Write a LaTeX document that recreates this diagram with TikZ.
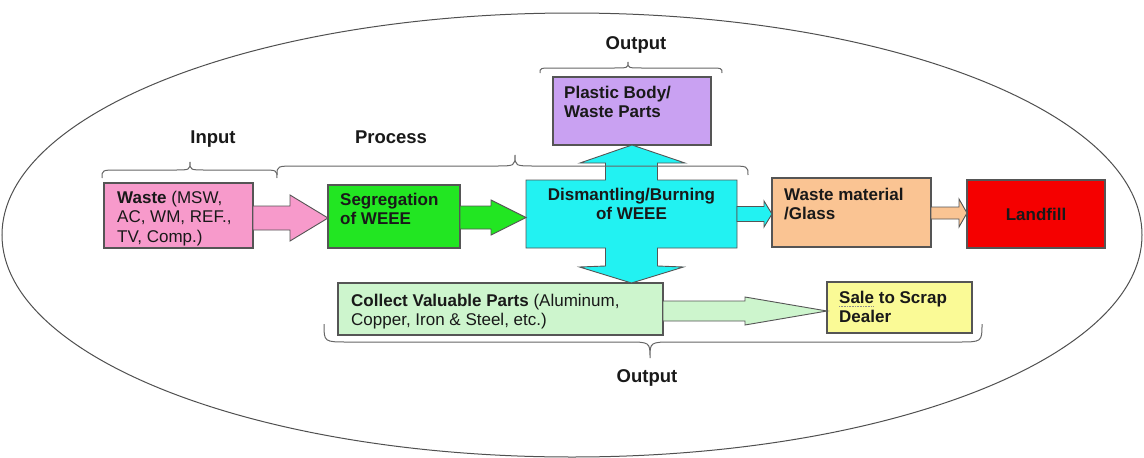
\documentclass[tikz,border=0pt]{standalone}
\usepackage{fontspec}
\setmainfont{Liberation Sans}
\usetikzlibrary{calc}

\definecolor{boxline}{HTML}{555555}
\definecolor{rimline}{HTML}{505050}
\definecolor{pinkfill}{HTML}{F79ACB}
\definecolor{greenfill}{HTML}{22E622}
\definecolor{cyanfill}{HTML}{22F2F2}
\definecolor{violetfill}{HTML}{C9A1F2}
\definecolor{tanfill}{HTML}{FAC493}
\definecolor{redfill}{HTML}{F50000}
\definecolor{mintfill}{HTML}{CDF5CD}
\definecolor{lemonfill}{HTML}{FAFA96}

\tikzset{
  box/.style={draw=boxline, line width=1.1pt, anchor=north west, inner sep=0pt, outer sep=0pt},
  txt/.style={anchor=north west, inner sep=0pt, align=left, text=black!90,
              font=\fontsize{17}{19.5}\selectfont},
  heading/.style={anchor=base, inner sep=0pt, text=black!90,
                  font=\fontsize{18.5}{22}\selectfont\bfseries},
  arrowpen/.style={draw=boxline, line width=0.9pt, line join=miter},
  bracepen/.style={draw=black!60, line width=1pt},
  rim/.style={draw=rimline, line width=1pt}
}

% horizontal block arrow: fill, from node, to node, y, body half, head half, head length
\newcommand\hflow[7]{%
  \coordinate (flowy) at (0,#4);
  \draw[arrowpen, fill=#1]
    ($(#2.east |- flowy)+(0,-#5)$) --
    ($(#3.west |- flowy)+(-#7,-#5)$) --
    ($(#3.west |- flowy)+(-#7,-#6)$) --
    (#3.west |- flowy) --
    ($(#3.west |- flowy)+(-#7,#6)$) --
    ($(#3.west |- flowy)+(-#7,#5)$) --
    ($(#2.east |- flowy)+(0,#5)$) -- cycle;}

% curly brace: x left, x right, y of ends, y of bar, x of tip, y of tip, curl length
\newcommand\curlybrace[7]{%
  \draw[bracepen] (#1,#3) .. controls (#1,#4) and (#1,#4) .. ({#1+#7},#4)
    -- ({#5-#7},#4) .. controls (#5,#4) and (#5,#4) .. (#5,#6)
    .. controls (#5,#4) and (#5,#4) .. ({#5+#7},#4)
    -- ({#2-#7},#4) .. controls (#2,#4) and (#2,#4) .. (#2,#3);}

\begin{document}
\begin{tikzpicture}[x=1pt, y=-1pt]
\useasboundingbox (0,0) rectangle (1144,458);
\fill[white] (0,0) rectangle (1144,458);

% enclosing ellipse
\draw[rim] (572,235) ellipse [x radius=570, y radius=222];

% boxes
\node[box, fill=pinkfill,   minimum width=149pt, minimum height=65pt] (waste)    at (104,183) {};
\node[box, fill=greenfill,  minimum width=132pt, minimum height=63pt] (segr)     at (328,185) {};
\node[box, draw=none,       minimum width=211pt, minimum height=68pt] (dism)     at (526,180) {};
\node[box, fill=violetfill, minimum width=158pt, minimum height=68pt] (plastic)  at (553,77)  {};
\node[box, fill=tanfill,    minimum width=159pt, minimum height=69pt] (glass)    at (772,178) {};
\node[box, fill=redfill,    minimum width=138pt, minimum height=68pt] (landfill) at (967,180) {};
\node[box, fill=mintfill,   minimum width=325pt, minimum height=52pt] (collect)  at (338,283) {};
\node[box, fill=lemonfill,  minimum width=145pt, minimum height=51pt] (dealer)   at (827,282) {};

% dismantling block with its up and down arrows
\coordinate (downtip) at (collect.north -| dism.south);
\draw[arrowpen, fill=cyanfill]
  (dism.north west) -- ($(dism.north)+(-26,0)$) -- ($(dism.north)+(-26,-17)$)
  -- ($(plastic.south)+(-52,18)$) -- (plastic.south) -- ($(plastic.south)+(53,18)$)
  -- ($(dism.north)+(26,-17)$) -- ($(dism.north)+(26,0)$) -- (dism.north east)
  -- (dism.south east) -- ($(dism.south)+(26,0)$) -- ($(dism.south)+(26,18)$)
  -- ($(downtip)+(52,-16)$) -- (downtip) -- ($(downtip)+(-52,-16)$)
  -- ($(dism.south)+(-26,18)$) -- ($(dism.south)+(-26,0)$) -- (dism.south west) -- cycle;

% flow arrows
\hflow{pinkfill}{waste}{segr}{218}{12}{23}{38}
\hflow{greenfill}{segr}{dism}{217.5}{11.5}{17.5}{35}
\hflow{cyanfill}{dism}{glass}{214}{7.5}{13}{8}
\hflow{tanfill}{glass}{landfill}{213}{6}{14}{8}
\hflow{mintfill}{collect}{dealer}{311}{10}{14}{82}

% box texts
\node[txt] (wastetext) at ($(waste.north west)+(13,7.5)$) {\textbf{Waste} (MSW,\\AC, WM, REF.,\\TV, Comp.)};
\node[txt] (segrtext) at ($(segr.north west)+(12,7.5)$) {\textbf{Segregation}\\\textbf{of WEEE}};
\node[txt, anchor=north, align=center] (dismtext) at ($(dism.north)+(0,7.5)$) {\textbf{Dismantling/Burning}\\\textbf{of WEEE}};
\node[txt] (plastictext) at ($(plastic.north west)+(11,8.5)$) {\textbf{Plastic Body/}\\\textbf{Waste Parts}};
\node[txt] (glasstext) at ($(glass.north west)+(12,9.5)$) {\textbf{Waste material}\\\textbf{/Glass}};
\node[txt, anchor=center] (landtext) at (landfill.center) {\textbf{Landfill}};
\node[txt] (collecttext) at ($(collect.north west)+(13,10.5)$) {\textbf{Collect Valuable Parts} (Aluminum,\\Copper, Iron \& Steel, etc.)};
\node[txt] (dealertext) at ($(dealer.north west)+(12,8.5)$) {\textbf{Sale to Scrap}\\\textbf{Dealer}};
\draw[densely dotted, black!45, line width=0.6pt] ($(dealertext.north west)+(0,15.5)$) -- ++(35,0);

% group braces
\curlybrace{102}{277}{178}{170}{190}{162}{16}
\curlybrace{277}{748}{175}{166}{515}{155}{20}
\curlybrace{540}{722}{73}{68}{628}{62}{14}
\curlybrace{324}{982}{324}{342}{650}{358}{24}

% group headings
\node[heading] (inputlabel)   at (213,143) {Input};
\node[heading] (processlabel) at (391,143) {Process};
\node[heading] (outtoplabel)  at (636,49)  {Output};
\node[heading] (outlowlabel)  at (647,382) {Output};
\end{tikzpicture}
\end{document}
